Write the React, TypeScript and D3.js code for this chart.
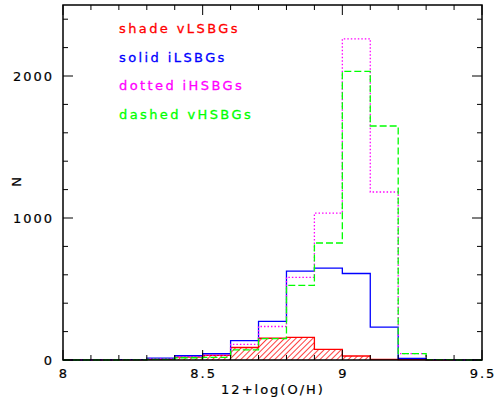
import React from "react";
import * as d3 from "d3";

const binStarts = [8.0, 8.1, 8.2, 8.3, 8.4, 8.5, 8.6, 8.7, 8.8, 8.9, 9.0, 9.1, 9.2, 9.3, 9.4];
const binWidth = 0.1;
const vLSBGs = [0, 0, 1, 5, 20, 32, 88, 153, 160, 75, 28, 5, 3, 0, 0];
const iLSBGs = [0, 1, 3, 13, 30, 44, 136, 272, 626, 647, 609, 232, 12, 2, 0];
const iHSBGs = [0, 0, 2, 8, 22, 35, 110, 236, 582, 1035, 2262, 1183, 45, 3, 0];
const vHSBGs = [0, 0, 1, 5, 16, 18, 72, 150, 526, 824, 2033, 1648, 45, 3, 0];
const xMajor = [8, 8.5, 9, 9.5];
const xMajorLabels = ["8", "8.5", "9", "9.5"];
const yMajor = [0, 1000, 2000];
const legendLabels = ["shade vLSBGs", "solid iLSBGs", "dotted iHSBGs", "dashed vHSBGs"];
const legendColors = ["#ff0000", "#0000ff", "#ff00ff", "#00ff00"];

const W = 497, H = 398;
const L = 63, R = 482, T = 5, B = 360;

export default function App() {
  const x = d3.scaleLinear().domain([8, 9.5]).range([L, R]);
  const y = d3.scaleLinear().domain([0, 2500]).range([B, T]);

  const pts = (vals: number[]) => {
    const p: [number, number][] = binStarts.map((b, i) => [b, vals[i]]);
    p.push([binStarts[binStarts.length - 1] + binWidth, vals[vals.length - 1]]);
    return p;
  };
  const line = d3.line<[number, number]>().x(d => x(d[0])).y(d => y(d[1])).curve(d3.curveStepAfter);
  const area = d3.area<[number, number]>().x(d => x(d[0])).y0(y(0)).y1(d => y(d[1])).curve(d3.curveStepAfter);

  const xMinor = d3.range(8, 9.5001, 0.1).map(v => +v.toFixed(2));
  const yMinor = d3.range(0, 2500, 200);

  const font = "DejaVu Sans, sans-serif";

  return (
    <svg width={W} height={H} style={{ position: "absolute", left: 0, top: 0, background: "#fff" }}>
      <defs>
        <pattern id="hatch" patternUnits="userSpaceOnUse" width={4} height={4} patternTransform="rotate(45)">
          <line x1={0} y1={0} x2={0} y2={4} stroke="#ff0000" strokeWidth={1.5} />
        </pattern>
      </defs>
      <rect x={0} y={0} width={W} height={H} fill="#fff" />
      <path d={area(pts(vLSBGs)) || ""} fill="url(#hatch)" stroke="none" />
      <path d={line(pts(vLSBGs)) || ""} fill="none" stroke="#ff0000" strokeWidth={1.3} />
      <path d={line(pts(iLSBGs)) || ""} fill="none" stroke="#0000ff" strokeWidth={1.3} />
      <path d={line(pts(iHSBGs)) || ""} fill="none" stroke="#ff00ff" strokeWidth={1.3} strokeDasharray="1.5,2" />
      <path d={line(pts(vHSBGs)) || ""} fill="none" stroke="#00ff00" strokeWidth={1.3} strokeDasharray="7,3" />

      <rect x={L} y={T} width={R - L} height={B - T} fill="none" stroke="#000" strokeWidth={1.5} />
      {xMinor.map((v, i) => {
        const major = xMajor.some(m => Math.abs(m - v) < 1e-6);
        const len = major ? 10 : 5;
        return (
          <g key={"xt" + i}>
            <line x1={x(v)} x2={x(v)} y1={B} y2={B - len} stroke="#000" strokeWidth={1} />
            <line x1={x(v)} x2={x(v)} y1={T} y2={T + len} stroke="#000" strokeWidth={1} />
          </g>
        );
      })}
      {yMinor.map((v, i) => {
        const major = yMajor.includes(v);
        const len = major ? 10 : 5;
        return (
          <g key={"yt" + i}>
            <line x1={L} x2={L + len} y1={y(v)} y2={y(v)} stroke="#000" strokeWidth={1} />
            <line x1={R} x2={R - len} y1={y(v)} y2={y(v)} stroke="#000" strokeWidth={1} />
          </g>
        );
      })}
      {xMajor.map((v, i) => (
        <text key={"xl" + i} x={x(v) + 1} y={378} textAnchor="middle" fontFamily={font} fontSize={13} letterSpacing={2}
          stroke="#000" strokeWidth={0.2}>
          {xMajorLabels[i]}
        </text>
      ))}
      {yMajor.map((v, i) => (
        <text key={"yl" + i} x={54} y={y(v) + 5} textAnchor="end" fontFamily={font} fontSize={13} letterSpacing={2}
          stroke="#000" strokeWidth={0.2}>
          {String(v)}
        </text>
      ))}
      <text x={273} y={394} textAnchor="middle" fontFamily={font} fontSize={13} letterSpacing={2}
        stroke="#000" strokeWidth={0.2}>
        12+log(O/H)
      </text>
      <text transform="translate(21,182) rotate(-90)" textAnchor="middle" fontFamily={font} fontSize={13}
        stroke="#000" strokeWidth={0.2}>
        N
      </text>
      {legendLabels.map((t, i) => (
        <text key={"lg" + i} x={119} y={33 + i * 28.7} fontFamily={font} fontSize={13} letterSpacing={2.4}
          fill={legendColors[i]} stroke={legendColors[i]} strokeWidth={0.3}>
          {t}
        </text>
      ))}
    </svg>
  );
}
